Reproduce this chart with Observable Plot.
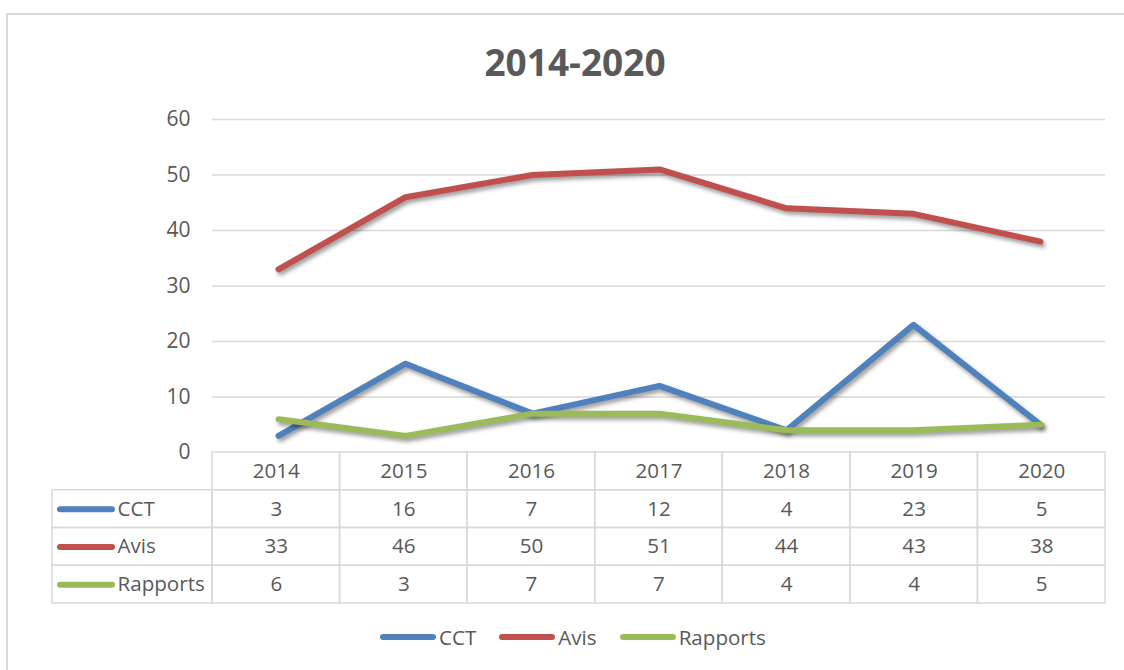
<!DOCTYPE html>
<html>
<head>
<meta charset="utf-8">
<script src="https://cdn.jsdelivr.net/npm/d3@7"></script>
<script src="https://cdn.jsdelivr.net/npm/@observablehq/plot@0.6"></script>
<style>
  html, body { margin: 0; padding: 0; background: #fff; }
  body { font-family: "Open Sans", sans-serif; color: #595959; overflow: hidden; }
  #page { position: relative; width: 1124px; height: 670px; overflow: hidden; }
  #border { position: absolute; left: 6px; top: 13px; width: 1200px; height: 700px; border: 2px solid #d9d9d9; box-sizing: border-box; }
  #title { position: absolute; left: 0; width: 1150px; top: 43px; text-align: center; font-weight: 700; font-size: 37px; line-height: 37px; color: #595959; }
  #chart, #table { position: absolute; left: 0; }
  #chart { top: 0; }
  #table { top: 440px; }
  #chart g[aria-label="line"] path { filter: drop-shadow(2px 3px 2px rgba(0,0,0,0.4)); }
  #legend { position: absolute; left: 380px; top: 627px; height: 20px; display: flex; align-items: center; font-size: 20.6px; line-height: 20px; color: #595959; }
  #legend .item { display: flex; align-items: center; margin-right: 23px; }
  #legend .sw { width: 56px; height: 6px; border-radius: 3px; margin-right: 3px; }
</style>
</head>
<body>
<div id="page">
  <div id="border"></div>
  <div id="title"></div>
  <div id="chart"></div>
  <div id="table"></div>
  <div id="legend"></div>
</div>
<script>
// ---- data ----
const title = "2014-2020";
const years = [2014, 2015, 2016, 2017, 2018, 2019, 2020];
const seriesNames = ["CCT", "Avis", "Rapports"];
const cct = [3, 16, 7, 12, 4, 23, 5];
const avis = [33, 46, 50, 51, 44, 43, 38];
const rapports = [6, 3, 7, 7, 4, 4, 5];
const yTicks = [0, 10, 20, 30, 40, 50, 60];
const colors = ["#4f81bd", "#c0504d", "#9bbb59"];

// ---- layout ----
const W = 1124;
const mL = 212, mR = 19;
const textColor = "#595959";
const gridColor = "#d9d9d9";
const values = [cct, avis, rapports];

const rows = seriesNames.flatMap((name, s) =>
  years.map((year, i) => ({series: name, year, value: values[s][i]}))
);

document.getElementById("title").textContent = title;

const chart = Plot.plot({
  width: W,
  height: 470,
  marginTop: 119,
  marginBottom: 18,
  marginLeft: mL,
  marginRight: mR,
  style: {fontFamily: "'Open Sans', sans-serif", fontSize: "20px", color: textColor, background: "transparent", overflow: "visible"},
  x: {type: "point", domain: years, padding: 0.5, axis: null},
  y: {domain: [0, 60], axis: null},
  color: {domain: seriesNames, range: colors},
  marks: [
    Plot.gridY(yTicks.filter(t => t > 0), {stroke: gridColor, strokeOpacity: 1, strokeWidth: 1.5}),
    Plot.axisY({ticks: yTicks, tickSize: 0, tickPadding: 22, fontSize: 21, fill: textColor, label: null}),
    Plot.lineY(rows, {x: "year", y: "value", z: "series", stroke: "series", strokeWidth: 6, strokeLinecap: "round", strokeLinejoin: "round"})
  ]
});
document.getElementById("chart").append(chart);

// ---- data table ----
const colW = (W - mL - mR) / years.length;
const px = p => p / colW;           // pixel offsets -> column units
const L = px(160);                  // label column width in column units

const cells = [];
years.forEach((y, i) => cells.push({x1: i, x2: i + 1, y1: 0, y2: 1}));
seriesNames.forEach((s, r) => {
  cells.push({x1: -L, x2: 0, y1: r + 1, y2: r + 2});
  years.forEach((y, i) => cells.push({x1: i, x2: i + 1, y1: r + 1, y2: r + 2}));
});
const header = years.map((y, i) => ({text: String(y), x: i + 0.5, y: 0.5}));
const valueCells = seriesNames.flatMap((s, r) =>
  values[r].map((v, i) => ({text: String(v), x: i + 0.5, y: r + 1.5}))
);
const labels = seriesNames.map((s, r) => ({series: s, y: r + 1.5}));

const table = Plot.plot({
  width: W,
  height: 175,
  marginTop: 12,
  marginBottom: 12,
  marginLeft: mL,
  marginRight: mR,
  style: {fontFamily: "'Open Sans', sans-serif", fontSize: "20px", color: textColor, background: "transparent", overflow: "visible"},
  x: {domain: [0, years.length], axis: null},
  y: {domain: [0, seriesNames.length + 1], reverse: true, axis: null},
  color: {domain: seriesNames, range: colors},
  marks: [
    Plot.rect(cells, {x1: "x1", x2: "x2", y1: "y1", y2: "y2", fill: "none", stroke: gridColor, strokeWidth: 1.5}),
    Plot.text(header, {x: "x", y: "y", text: "text", fill: textColor, fontSize: 20.6}),
    Plot.text(valueCells, {x: "x", y: "y", text: "text", fill: textColor, fontSize: 20.6}),
    Plot.ruleY(labels, {y: "y", x1: -L + px(8), x2: -L + px(60), stroke: "series", strokeWidth: 6, strokeLinecap: "round"}),
    Plot.text(labels, {x: -L + px(65), y: "y", text: "series", textAnchor: "start", fill: textColor, fontSize: 20.6})
  ]
});
document.getElementById("table").append(table);

// ---- legend ----
const legend = document.getElementById("legend");
seriesNames.forEach((s, i) => {
  const item = document.createElement("div");
  item.className = "item";
  const sw = document.createElement("div");
  sw.className = "sw";
  sw.style.background = colors[i];
  const t = document.createElement("span");
  t.textContent = s;
  item.append(sw, t);
  legend.append(item);
});
</script>
</body>
</html>
